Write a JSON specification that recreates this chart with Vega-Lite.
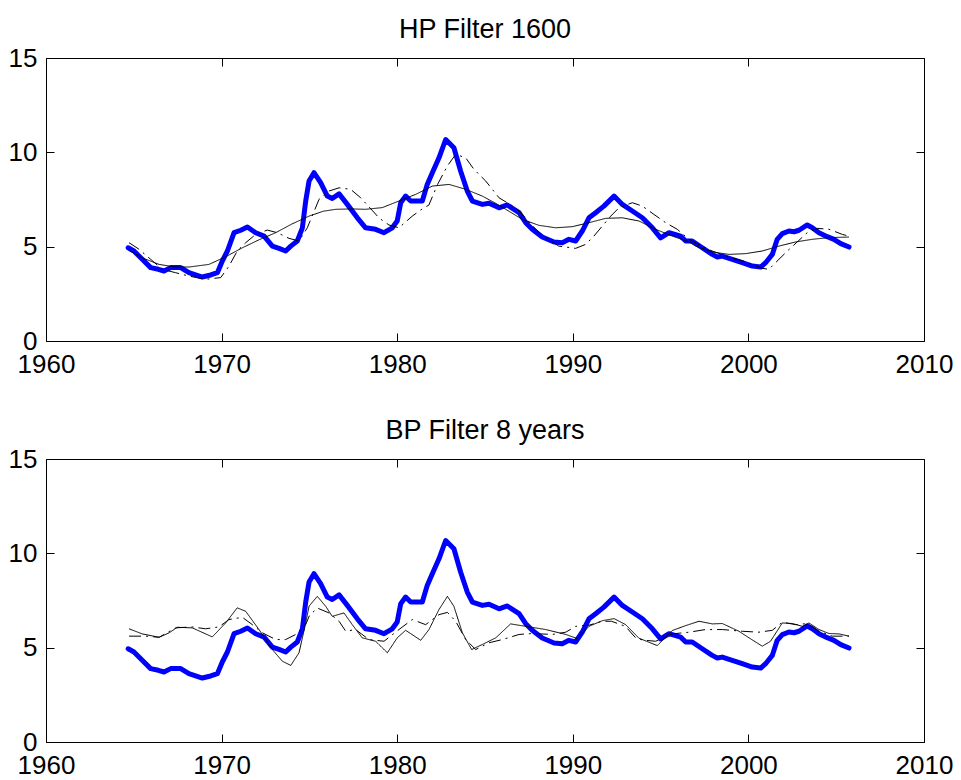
{
  "$schema": "https://vega.github.io/schema/vega-lite/v6.json",
  "padding": {"left": 7, "top": 15, "right": 0, "bottom": 0},
  "background": "white",
  "config": {
    "view": {"stroke": "black", "strokeWidth": 1},
    "font": "Liberation Sans",
    "axis": {"domain": false, "grid": false, "tickColor": "black", "tickSize": -8, "tickWidth": 1, "labelFont": "Liberation Sans", "labelFontSize": 26, "labelColor": "black", "labelFlush": false, "labelOverlap": false, "labelBound": false, "title": null},
    "axisX": {"labelPadding": 18},
    "axisY": {"labelPadding": 17},
    "title": {"font": "Liberation Sans", "fontSize": 27, "fontWeight": "normal", "color": "black", "offset": 1, "anchor": "middle"},
    "concat": {"spacing": 38}
  },
  "datasets": {
    "blue": [
      {"t":1964.68,"v":4.94},{"t":1965.01,"v":4.77},{"t":1965.48,"v":4.33},{"t":1965.96,"v":3.89},{"t":1966.4,"v":3.8},{"t":1966.72,"v":3.71},{"t":1967.1,"v":3.89},{"t":1967.67,"v":3.89},{"t":1968.14,"v":3.62},{"t":1968.9,"v":3.39},{"t":1969.38,"v":3.5},{"t":1969.76,"v":3.62},{"t":1970.04,"v":4.24},{"t":1970.33,"v":4.77},{"t":1970.71,"v":5.74},{"t":1971.09,"v":5.87},{"t":1971.47,"v":6.04},{"t":1971.94,"v":5.74},{"t":1972.42,"v":5.56},{"t":1972.89,"v":5.03},{"t":1973.27,"v":4.91},{"t":1973.65,"v":4.77},{"t":1973.94,"v":5.03},{"t":1974.31,"v":5.3},{"t":1974.6,"v":6.0},{"t":1974.79,"v":7.42},{"t":1974.98,"v":8.48},{"t":1975.26,"v":8.92},{"t":1975.64,"v":8.39},{"t":1976.02,"v":7.68},{"t":1976.3,"v":7.55},{"t":1976.69,"v":7.8},{"t":1977.16,"v":7.24},{"t":1977.73,"v":6.53},{"t":1978.2,"v":6.0},{"t":1978.77,"v":5.92},{"t":1979.25,"v":5.74},{"t":1979.72,"v":6.0},{"t":1980.0,"v":6.36},{"t":1980.2,"v":7.33},{"t":1980.48,"v":7.68},{"t":1980.77,"v":7.42},{"t":1981.43,"v":7.42},{"t":1981.71,"v":8.3},{"t":1982.0,"v":8.92},{"t":1982.38,"v":9.71},{"t":1982.76,"v":10.68},{"t":1983.23,"v":10.24},{"t":1983.61,"v":9.01},{"t":1983.99,"v":7.95},{"t":1984.28,"v":7.42},{"t":1984.85,"v":7.24},{"t":1985.23,"v":7.3},{"t":1985.8,"v":7.06},{"t":1986.27,"v":7.21},{"t":1986.94,"v":6.8},{"t":1987.32,"v":6.27},{"t":1987.69,"v":5.92},{"t":1988.26,"v":5.51},{"t":1988.93,"v":5.25},{"t":1989.4,"v":5.21},{"t":1989.78,"v":5.39},{"t":1990.16,"v":5.3},{"t":1990.54,"v":5.83},{"t":1990.92,"v":6.53},{"t":1991.3,"v":6.8},{"t":1991.77,"v":7.15},{"t":1992.35,"v":7.68},{"t":1992.82,"v":7.24},{"t":1993.39,"v":6.89},{"t":1993.96,"v":6.53},{"t":1994.53,"v":6.0},{"t":1995.0,"v":5.47},{"t":1995.48,"v":5.74},{"t":1996.14,"v":5.56},{"t":1996.43,"v":5.3},{"t":1996.8,"v":5.3},{"t":1997.37,"v":4.94},{"t":1997.94,"v":4.59},{"t":1998.23,"v":4.45},{"t":1998.51,"v":4.5},{"t":1999.08,"v":4.33},{"t":1999.65,"v":4.15},{"t":2000.22,"v":3.97},{"t":2000.7,"v":3.92},{"t":2000.98,"v":4.15},{"t":2001.36,"v":4.59},{"t":2001.64,"v":5.39},{"t":2001.93,"v":5.69},{"t":2002.31,"v":5.83},{"t":2002.6,"v":5.79},{"t":2002.88,"v":5.87},{"t":2003.35,"v":6.15},{"t":2003.64,"v":6.0},{"t":2004.02,"v":5.74},{"t":2004.49,"v":5.53},{"t":2004.87,"v":5.39},{"t":2005.26,"v":5.16},{"t":2005.73,"v":4.98}
    ],
    "hp": [
      {"s":"trend","t":1964.73,"v":4.8},{"s":"trend","t":1965.5,"v":4.4},{"s":"trend","t":1966.44,"v":4.06},{"s":"trend","t":1967.3,"v":3.93},{"s":"trend","t":1968.14,"v":3.92},{"s":"trend","t":1969.28,"v":4.06},{"s":"trend","t":1970.2,"v":4.45},{"s":"trend","t":1971.18,"v":4.94},{"s":"trend","t":1972.1,"v":5.35},{"s":"trend","t":1973.08,"v":5.74},{"s":"trend","t":1974.0,"v":6.2},{"s":"trend","t":1974.98,"v":6.62},{"s":"trend","t":1975.8,"v":6.88},{"s":"trend","t":1976.5,"v":6.98},{"s":"trend","t":1977.4,"v":7.0},{"s":"trend","t":1978.2,"v":6.98},{"s":"trend","t":1979.15,"v":7.07},{"s":"trend","t":1980.1,"v":7.42},{"s":"trend","t":1981.05,"v":7.77},{"s":"trend","t":1982.0,"v":8.21},{"s":"trend","t":1982.95,"v":8.3},{"s":"trend","t":1983.9,"v":8.04},{"s":"trend","t":1984.85,"v":7.68},{"s":"trend","t":1985.8,"v":7.2},{"s":"trend","t":1986.18,"v":6.98},{"s":"trend","t":1987.12,"v":6.45},{"s":"trend","t":1988.07,"v":6.13},{"s":"trend","t":1989.03,"v":6.0},{"s":"trend","t":1989.97,"v":6.06},{"s":"trend","t":1990.92,"v":6.27},{"s":"trend","t":1991.87,"v":6.5},{"s":"trend","t":1992.82,"v":6.53},{"s":"trend","t":1993.77,"v":6.36},{"s":"trend","t":1994.72,"v":5.92},{"s":"trend","t":1995.67,"v":5.56},{"s":"trend","t":1996.62,"v":5.25},{"s":"trend","t":1996.99,"v":5.03},{"s":"trend","t":1997.94,"v":4.72},{"s":"trend","t":1998.9,"v":4.59},{"s":"trend","t":1999.84,"v":4.63},{"s":"trend","t":2000.79,"v":4.77},{"s":"trend","t":2001.74,"v":5.03},{"s":"trend","t":2002.69,"v":5.25},{"s":"trend","t":2003.64,"v":5.39},{"s":"trend","t":2004.59,"v":5.48},{"s":"trend","t":2005.73,"v":5.51},
      {"s":"dd","t":1964.73,"v":5.21},{"s":"dd","t":1965.3,"v":4.86},{"s":"dd","t":1965.96,"v":4.33},{"s":"dd","t":1966.62,"v":3.8},{"s":"dd","t":1967.38,"v":3.62},{"s":"dd","t":1968.14,"v":3.44},{"s":"dd","t":1969.09,"v":3.27},{"s":"dd","t":1969.95,"v":3.36},{"s":"dd","t":1970.42,"v":3.97},{"s":"dd","t":1970.89,"v":4.77},{"s":"dd","t":1971.37,"v":5.21},{"s":"dd","t":1971.94,"v":5.65},{"s":"dd","t":1972.6,"v":5.88},{"s":"dd","t":1973.17,"v":5.74},{"s":"dd","t":1973.84,"v":5.44},{"s":"dd","t":1974.41,"v":5.3},{"s":"dd","t":1974.88,"v":6.0},{"s":"dd","t":1975.55,"v":7.51},{"s":"dd","t":1976.12,"v":7.95},{"s":"dd","t":1976.69,"v":8.12},{"s":"dd","t":1977.35,"v":8.04},{"s":"dd","t":1977.92,"v":7.59},{"s":"dd","t":1978.5,"v":7.0},{"s":"dd","t":1978.96,"v":6.53},{"s":"dd","t":1979.53,"v":6.15},{"s":"dd","t":1980.1,"v":6.0},{"s":"dd","t":1980.86,"v":6.62},{"s":"dd","t":1981.5,"v":7.05},{"s":"dd","t":1981.8,"v":7.2},{"s":"dd","t":1982.3,"v":8.3},{"s":"dd","t":1982.85,"v":9.27},{"s":"dd","t":1983.33,"v":9.89},{"s":"dd","t":1983.9,"v":9.71},{"s":"dd","t":1984.37,"v":9.1},{"s":"dd","t":1985.04,"v":8.48},{"s":"dd","t":1985.8,"v":7.59},{"s":"dd","t":1986.5,"v":7.2},{"s":"dd","t":1986.94,"v":6.9},{"s":"dd","t":1987.6,"v":6.2},{"s":"dd","t":1988.26,"v":5.6},{"s":"dd","t":1989.2,"v":5.03},{"s":"dd","t":1990.16,"v":4.91},{"s":"dd","t":1990.73,"v":5.12},{"s":"dd","t":1991.2,"v":5.56},{"s":"dd","t":1991.68,"v":6.09},{"s":"dd","t":1992.16,"v":6.62},{"s":"dd","t":1992.63,"v":7.06},{"s":"dd","t":1993.39,"v":7.33},{"s":"dd","t":1993.96,"v":7.15},{"s":"dd","t":1994.62,"v":6.71},{"s":"dd","t":1995.29,"v":6.27},{"s":"dd","t":1995.95,"v":5.92},{"s":"dd","t":1996.62,"v":5.39},{"s":"dd","t":1997.3,"v":5.05},{"s":"dd","t":1997.94,"v":4.77},{"s":"dd","t":1998.9,"v":4.45},{"s":"dd","t":1999.84,"v":4.2},{"s":"dd","t":2000.79,"v":3.85},{"s":"dd","t":2001.17,"v":3.8},{"s":"dd","t":2001.74,"v":4.33},{"s":"dd","t":2002.22,"v":4.77},{"s":"dd","t":2002.78,"v":5.25},{"s":"dd","t":2003.35,"v":5.74},{"s":"dd","t":2003.92,"v":5.97},{"s":"dd","t":2004.59,"v":5.92},{"s":"dd","t":2005.35,"v":5.65},{"s":"dd","t":2005.73,"v":5.56}
    ],
    "bp": [
      {"s":"trend","t":1964.73,"v":6.0},{"s":"trend","t":1965.48,"v":5.73},{"s":"trend","t":1966.44,"v":5.55},{"s":"trend","t":1967.0,"v":5.78},{"s":"trend","t":1967.48,"v":6.08},{"s":"trend","t":1968.33,"v":6.05},{"s":"trend","t":1969.47,"v":5.57},{"s":"trend","t":1970.23,"v":6.31},{"s":"trend","t":1970.89,"v":7.11},{"s":"trend","t":1971.37,"v":6.93},{"s":"trend","t":1972.13,"v":5.96},{"s":"trend","t":1972.89,"v":4.9},{"s":"trend","t":1973.46,"v":4.28},{"s":"trend","t":1973.94,"v":4.06},{"s":"trend","t":1974.41,"v":4.73},{"s":"trend","t":1974.79,"v":6.31},{"s":"trend","t":1974.98,"v":7.2},{"s":"trend","t":1975.45,"v":7.72},{"s":"trend","t":1975.93,"v":7.19},{"s":"trend","t":1976.3,"v":6.66},{"s":"trend","t":1976.97,"v":6.84},{"s":"trend","t":1977.44,"v":6.22},{"s":"trend","t":1978.01,"v":5.52},{"s":"trend","t":1978.77,"v":5.34},{"s":"trend","t":1979.44,"v":4.73},{"s":"trend","t":1980.0,"v":5.52},{"s":"trend","t":1980.48,"v":5.92},{"s":"trend","t":1981.34,"v":5.39},{"s":"trend","t":1981.81,"v":5.96},{"s":"trend","t":1982.38,"v":7.02},{"s":"trend","t":1982.86,"v":7.72},{"s":"trend","t":1983.23,"v":7.19},{"s":"trend","t":1983.71,"v":5.79},{"s":"trend","t":1984.24,"v":4.9},{"s":"trend","t":1984.85,"v":5.17},{"s":"trend","t":1985.61,"v":5.52},{"s":"trend","t":1986.46,"v":6.26},{"s":"trend","t":1987.32,"v":6.13},{"s":"trend","t":1988.46,"v":5.96},{"s":"trend","t":1989.6,"v":5.7},{"s":"trend","t":1990.26,"v":5.48},{"s":"trend","t":1990.92,"v":6.13},{"s":"trend","t":1991.68,"v":6.43},{"s":"trend","t":1992.35,"v":6.54},{"s":"trend","t":1993.01,"v":6.22},{"s":"trend","t":1993.77,"v":5.5},{"s":"trend","t":1994.81,"v":5.11},{"s":"trend","t":1995.67,"v":5.91},{"s":"trend","t":1996.43,"v":6.17},{"s":"trend","t":1997.19,"v":6.4},{"s":"trend","t":1997.94,"v":6.26},{"s":"trend","t":1998.51,"v":6.28},{"s":"trend","t":1999.46,"v":5.87},{"s":"trend","t":2000.12,"v":5.47},{"s":"trend","t":2000.79,"v":5.08},{"s":"trend","t":2001.26,"v":5.34},{"s":"trend","t":2001.93,"v":6.31},{"s":"trend","t":2002.5,"v":6.28},{"s":"trend","t":2003.07,"v":6.13},{"s":"trend","t":2003.45,"v":6.31},{"s":"trend","t":2004.02,"v":5.96},{"s":"trend","t":2004.59,"v":5.75},{"s":"trend","t":2005.16,"v":5.73},{"s":"trend","t":2005.73,"v":5.61},
      {"s":"dd","t":1964.73,"v":5.61},{"s":"dd","t":1965.68,"v":5.61},{"s":"dd","t":1966.44,"v":5.55},{"s":"dd","t":1967.38,"v":6.05},{"s":"dd","t":1968.33,"v":6.1},{"s":"dd","t":1969.09,"v":6.0},{"s":"dd","t":1969.85,"v":6.1},{"s":"dd","t":1970.42,"v":6.49},{"s":"dd","t":1971.18,"v":6.61},{"s":"dd","t":1971.75,"v":6.22},{"s":"dd","t":1972.32,"v":5.79},{"s":"dd","t":1973.08,"v":5.43},{"s":"dd","t":1973.65,"v":5.43},{"s":"dd","t":1974.22,"v":5.7},{"s":"dd","t":1974.79,"v":6.22},{"s":"dd","t":1975.0,"v":6.7},{"s":"dd","t":1975.45,"v":7.1},{"s":"dd","t":1976.12,"v":6.84},{"s":"dd","t":1976.69,"v":6.4},{"s":"dd","t":1977.07,"v":5.87},{"s":"dd","t":1977.63,"v":5.96},{"s":"dd","t":1978.39,"v":5.43},{"s":"dd","t":1979.25,"v":5.34},{"s":"dd","t":1980.1,"v":5.96},{"s":"dd","t":1980.86,"v":6.49},{"s":"dd","t":1981.62,"v":6.22},{"s":"dd","t":1982.38,"v":6.75},{"s":"dd","t":1982.86,"v":6.87},{"s":"dd","t":1983.33,"v":6.4},{"s":"dd","t":1983.9,"v":5.43},{"s":"dd","t":1984.47,"v":4.9},{"s":"dd","t":1985.23,"v":5.26},{"s":"dd","t":1985.99,"v":5.43},{"s":"dd","t":1986.94,"v":5.7},{"s":"dd","t":1987.69,"v":5.75},{"s":"dd","t":1988.83,"v":5.7},{"s":"dd","t":1989.6,"v":5.82},{"s":"dd","t":1990.16,"v":6.13},{"s":"dd","t":1990.92,"v":6.19},{"s":"dd","t":1991.68,"v":6.4},{"s":"dd","t":1992.2,"v":6.4},{"s":"dd","t":1993.0,"v":6.13},{"s":"dd","t":1993.58,"v":5.52},{"s":"dd","t":1994.0,"v":5.4},{"s":"dd","t":1994.72,"v":5.34},{"s":"dd","t":1995.67,"v":5.73},{"s":"dd","t":1996.62,"v":5.82},{"s":"dd","t":1997.56,"v":5.96},{"s":"dd","t":1998.51,"v":5.96},{"s":"dd","t":1999.65,"v":5.87},{"s":"dd","t":2000.6,"v":5.82},{"s":"dd","t":2001.36,"v":5.92},{"s":"dd","t":2001.93,"v":6.35},{"s":"dd","t":2002.69,"v":6.22},{"s":"dd","t":2003.35,"v":6.28},{"s":"dd","t":2004.02,"v":5.87},{"s":"dd","t":2004.78,"v":5.61},{"s":"dd","t":2005.73,"v":5.61}
    ]
  },
  "vconcat": [
    {
      "title": "HP Filter 1600",
      "width": 878, "height": 283,
      "layer": [
        {"data": {"name": "blue"},
         "mark": {"type": "line", "color": "#0000ff", "strokeWidth": 5, "strokeCap": "round", "strokeJoin": "round"},
         "encoding": {
           "x": {"field": "t", "type": "quantitative", "scale": {"domain": [1960, 2010], "nice": false, "zero": false}, "axis": {"orient": "bottom", "values": [1960,1970,1980,1990,2000,2010], "format": "d"}},
           "y": {"field": "v", "type": "quantitative", "scale": {"domain": [0, 15], "nice": false}, "axis": {"orient": "left", "values": [0,5,10,15]}}
         }},
        {"data": {"name": "hp"},
         "mark": {"type": "line", "color": "black", "strokeWidth": 1},
         "encoding": {
           "x": {"field": "t", "type": "quantitative", "axis": {"orient": "top", "values": [1960,1970,1980,1990,2000,2010], "labels": false}},
           "y": {"field": "v", "type": "quantitative", "axis": {"orient": "right", "values": [0,5,10,15], "labels": false}},
           "detail": {"field": "s", "type": "nominal"},
           "strokeDash": {"field": "s", "type": "nominal", "scale": {"domain": ["trend", "dd"], "range": [[1, 0], [12, 5, 2, 5]]}, "legend": null}
         }}
      ],
      "resolve": {"axis": {"x": "independent", "y": "independent"}}
    },
    {
      "title": "BP Filter 8 years",
      "width": 878, "height": 283,
      "layer": [
        {"data": {"name": "blue"},
         "mark": {"type": "line", "color": "#0000ff", "strokeWidth": 5, "strokeCap": "round", "strokeJoin": "round"},
         "encoding": {
           "x": {"field": "t", "type": "quantitative", "scale": {"domain": [1960, 2010], "nice": false, "zero": false}, "axis": {"orient": "bottom", "values": [1960,1970,1980,1990,2000,2010], "format": "d"}},
           "y": {"field": "v", "type": "quantitative", "scale": {"domain": [0, 15], "nice": false}, "axis": {"orient": "left", "values": [0,5,10,15]}}
         }},
        {"data": {"name": "bp"},
         "mark": {"type": "line", "color": "black", "strokeWidth": 1},
         "encoding": {
           "x": {"field": "t", "type": "quantitative", "axis": {"orient": "top", "values": [1960,1970,1980,1990,2000,2010], "labels": false}},
           "y": {"field": "v", "type": "quantitative", "axis": {"orient": "right", "values": [0,5,10,15], "labels": false}},
           "detail": {"field": "s", "type": "nominal"},
           "strokeDash": {"field": "s", "type": "nominal", "scale": {"domain": ["trend", "dd"], "range": [[1, 0], [12, 5, 2, 5]]}, "legend": null}
         }}
      ],
      "resolve": {"axis": {"x": "independent", "y": "independent"}}
    }
  ]
}
